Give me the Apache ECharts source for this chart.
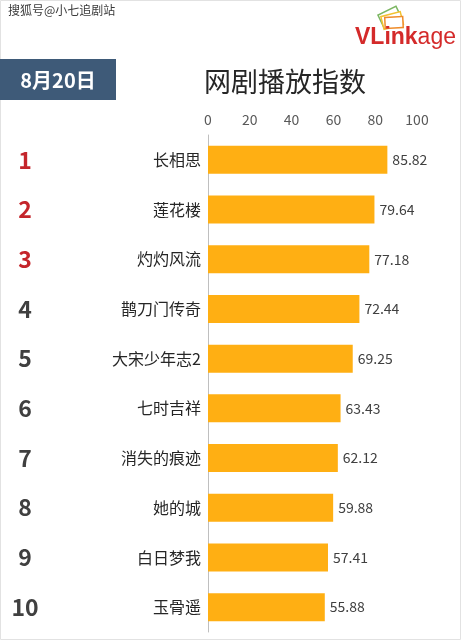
<!DOCTYPE html>
<html>
<head>
<meta charset="utf-8">
<script src="https://cdn.jsdelivr.net/npm/echarts@6/dist/echarts.min.js"></script>
<style>
html,body{margin:0;padding:0;background:#fff;}
#main{width:462px;height:640px;}
</style>
</head>
<body>
<div id="main"></div>
<script>
var categories = ['长相思','莲花楼','灼灼风流','鹊刀门传奇','大宋少年志2','七时吉祥','消失的痕迹','她的城','白日梦我','玉骨遥'];
var values = [85.82, 79.64, 77.18, 72.44, 69.25, 63.43, 62.12, 59.88, 57.41, 55.88];
var ranks = ['1','2','3','4','5','6','7','8','9','10'];
var xTicks = [0, 20, 40, 60, 80, 100];
var titleText = '网剧播放指数';
var dateText = '8月20日';
var watermark = '搜狐号@小七追剧站';

var FONT = '"Noto Sans CJK SC", "Noto Sans", sans-serif';
var chart = echarts.init(document.getElementById('main'));
chart.setOption({
  backgroundColor: '#ffffff',
  animation: false,
  textStyle: { fontFamily: FONT },
  grid: { left: 208, right: 45, top: 135, bottom: 8, containLabel: false },
  xAxis: {
    type: 'value', position: 'top',
    min: xTicks[0], max: xTicks[xTicks.length - 1], interval: 20,
    axisLine: { show: false }, axisTick: { show: false },
    splitLine: { show: false },
    axisLabel: { color: '#595959', fontSize: 14, margin: 8, fontFamily: FONT }
  },
  yAxis: [{
    type: 'category', data: categories, inverse: true,
    axisLine: { show: true, lineStyle: { color: '#bfbfbf', width: 1 } },
    axisTick: { show: false },
    axisLabel: { color: '#262626', fontSize: 16, margin: 7, fontFamily: FONT }
  }, {
    type: 'category', data: ranks, inverse: true, position: 'left',
    axisLine: { show: false }, axisTick: { show: false },
    axisLabel: {
      align: 'center', margin: 183, fontSize: 23, fontWeight: 'bold', fontFamily: FONT,
      color: function (v, i) { return i < 3 ? '#c4252b' : '#404040'; }
    }
  }],
  series: [{
    type: 'bar', data: values, yAxisIndex: 0, barWidth: 28,
    itemStyle: { color: '#ffaf13' },
    label: { show: true, position: 'right', distance: 5, color: '#404040', fontSize: 14, fontFamily: FONT }
  }],
  graphic: [
    { type: 'rect', shape: { x: 0.5, y: 0.5, width: 460, height: 639 }, style: { fill: 'none', stroke: '#e2e2e2', lineWidth: 1 }, silent: true },
    { type: 'text', left: 8, top: 4, style: { text: watermark, fill: '#3a3a3a', font: '12px ' + FONT } },
    { type: 'rect', shape: { x: 0, y: 59, width: 116, height: 41 }, style: { fill: '#3e5a78' } },
    { type: 'text', x: 58, y: 80, style: { text: dateText, fill: '#ffffff', font: 'bold 20px ' + FONT, align: 'center', verticalAlign: 'middle' } },
    { type: 'text', x: 285, y: 82, style: { text: titleText, fill: '#262626', font: '27px ' + FONT, align: 'center', verticalAlign: 'middle' } },
    { type: 'rect', x: 390, y: 17, rotation: 0.45, shape: { x: -10, y: -7, width: 20, height: 14 }, style: { fill: 'none', stroke: '#7bb661', lineWidth: 1.5 } },
    { type: 'rect', x: 392, y: 20, rotation: 0.25, shape: { x: -10, y: -6, width: 20, height: 13 }, style: { fill: '#fff', stroke: '#f2c230', lineWidth: 1.5 } },
    { type: 'rect', x: 394, y: 23, rotation: 0.05, shape: { x: -9, y: -6, width: 18, height: 11 }, style: { fill: '#fff', stroke: '#ef8c2a', lineWidth: 1.5 } },
    { type: 'text', x: 355, y: 38, style: { text: '{a|VLink}{b|age}', verticalAlign: 'middle',
        rich: { a: { fill: '#d42a2a', font: 'bold 23px "Liberation Sans", Arial, sans-serif' }, b: { fill: '#d42a2a', font: '23px "Liberation Sans", Arial, sans-serif' } } } }
  ]
});
</script>
</body>
</html>
